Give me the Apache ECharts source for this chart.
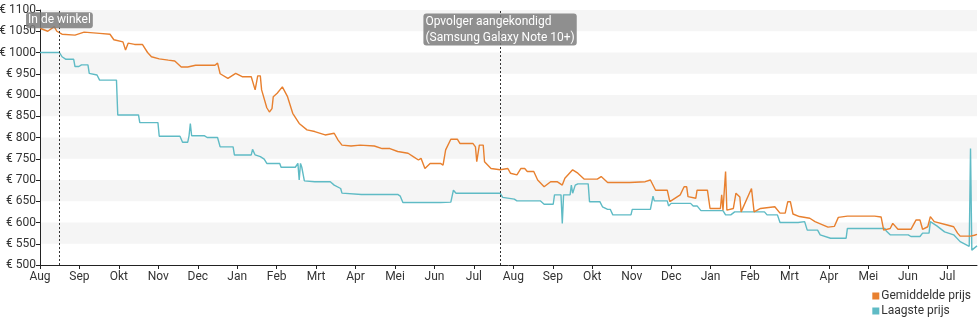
<!DOCTYPE html>
<html>
<head>
<meta charset="utf-8">
<script src="https://cdn.jsdelivr.net/npm/echarts@6/dist/echarts.min.js"></script>
<style>html,body{margin:0;padding:0;background:#fff}#c{width:980px;height:325px}</style>
</head>
<body>
<div id="c"></div>
<script>
const tickLabels = ['Aug','Sep','Okt','Nov','Dec','Jan','Feb','Mrt','Apr','Mei','Jun','Jul','Aug','Sep','Okt','Nov','Dec','Jan','Feb','Mrt','Apr','Mei','Jun','Jul'];
const yTicks = [500,550,600,650,700,750,800,850,900,950,1000,1050,1100];
const seriesNames = ['Gemiddelde prijs','Laagste prijs'];
const xRange = ['2018-08-01','2020-07-24'];
const events = [
  {date:'2018-08-16', lines:['In de winkel'], labelAt:1076},
  {date:'2019-07-22', lines:['Opvolger aangekondigd','(Samsung Galaxy Note 10+)'], labelAt:1054}
];
const avgPrice = [
['2018-08-01',1057],['2018-08-07',1050],['2018-08-12',1061],['2018-08-14',1050],['2018-08-18',1043],['2018-08-28',1041],
['2018-09-04',1048],['2018-09-16',1045],['2018-09-24',1043],['2018-09-27',1030],['2018-10-04',1025],['2018-10-06',1006],
['2018-10-08',1022],['2018-10-13',1019],['2018-10-19',1019],['2018-10-23',1000],['2018-10-26',990],['2018-11-01',985],
['2018-11-08',982],['2018-11-13',980],['2018-11-18',966],['2018-11-23',966],['2018-11-29',970],['2018-12-06',970],
['2018-12-14',970],['2018-12-16',975],['2018-12-18',950],['2018-12-24',939],['2018-12-30',951],['2019-01-04',943],
['2019-01-11',943],['2019-01-14',912],['2019-01-16',945],['2019-01-18',945],['2019-01-19',912],['2019-01-23',870],
['2019-01-25',860],['2019-01-27',868],['2019-01-28',896],['2019-01-31',904],['2019-02-04',919],['2019-02-08',896],
['2019-02-12',857],['2019-02-17',833],['2019-02-23',818],['2019-03-01',814],['2019-03-09',806],['2019-03-16',810],
['2019-03-19',794],['2019-03-22',782],['2019-03-29',780],['2019-04-05',782],['2019-04-16',780],['2019-04-22',774],
['2019-04-28',774],['2019-05-04',767],['2019-05-12',763],['2019-05-16',755],['2019-05-20',747],['2019-05-22',751],
['2019-05-25',727],['2019-05-29',739],['2019-06-06',739],['2019-06-08',735],['2019-06-10',771],['2019-06-14',796],
['2019-06-19',796],['2019-06-21',786],['2019-06-27',786],['2019-07-01',786],['2019-07-03',778],['2019-07-04',743],
['2019-07-06',782],['2019-07-09',782],['2019-07-10',743],['2019-07-15',727],['2019-07-22',724],['2019-07-28',727],
['2019-07-30',716],['2019-08-04',712],['2019-08-07',727],['2019-08-10',727],['2019-08-12',720],['2019-08-17',720],
['2019-08-20',700],['2019-08-25',684],['2019-08-30',696],['2019-09-04',696],['2019-09-08',688],['2019-09-10',704],
['2019-09-16',724],['2019-09-20',716],['2019-09-25',702],['2019-10-05',702],['2019-10-08',708],['2019-10-13',694],
['2019-10-30',694],['2019-11-11',696],['2019-11-15',700],['2019-11-19',676],['2019-11-28',676],['2019-11-30',649],
['2019-12-08',665],['2019-12-11',684],['2019-12-13',684],['2019-12-14',661],['2019-12-20',657],['2019-12-21',676],
['2019-12-29',676],['2019-12-31',633],['2020-01-08',633],['2020-01-09',665],['2020-01-10',629],['2020-01-12',720],
['2020-01-13',629],['2020-01-18',633],['2020-01-20',669],['2020-01-23',660],['2020-01-24',625],['2020-02-01',680],
['2020-02-03',625],['2020-02-08',633],['2020-02-19',637],['2020-02-23',622],['2020-02-27',622],['2020-02-29',649],
['2020-03-02',649],['2020-03-04',620],['2020-03-09',614],['2020-03-17',610],['2020-03-21',602],['2020-03-31',589],
['2020-04-05',591],['2020-04-08',612],['2020-04-15',615],['2020-05-06',615],['2020-05-11',613],['2020-05-13',582],
['2020-05-18',586],['2020-05-20',598],['2020-05-24',584],['2020-06-03',584],['2020-06-07',606],['2020-06-10',606],
['2020-06-12',584],['2020-06-16',590],['2020-06-18',614],['2020-06-21',602],['2020-07-01',594],['2020-07-06',590],
['2020-07-09',575],['2020-07-11',568],['2020-07-19',568],['2020-07-22',570],['2020-07-24',572]
];
const lowPrice = [
['2018-08-01',1000],['2018-08-16',1000],['2018-08-18',990],['2018-08-21',984],['2018-08-27',984],['2018-08-28',967],
['2018-08-31',967],['2018-09-02',971],['2018-09-07',971],['2018-09-08',951],['2018-09-14',947],['2018-09-16',935],
['2018-09-29',935],['2018-09-30',853],['2018-10-16',853],['2018-10-17',835],['2018-10-31',835],['2018-11-01',803],
['2018-11-17',803],['2018-11-19',789],['2018-11-23',789],['2018-11-24',804],['2018-11-25',833],['2018-11-26',804],
['2018-12-06',804],['2018-12-08',800],['2018-12-16',800],['2018-12-18',778],['2018-12-28',778],['2018-12-29',759],
['2019-01-11',759],['2019-01-12',772],['2019-01-14',759],['2019-01-18',755],['2019-01-21',749],['2019-01-23',739],
['2019-02-02',739],['2019-02-03',730],['2019-02-14',730],['2019-02-16',739],['2019-02-17',700],['2019-02-18',739],
['2019-02-19',730],['2019-02-21',698],['2019-03-01',696],['2019-03-13',696],['2019-03-16',688],['2019-03-21',680],
['2019-03-22',669],['2019-04-06',666],['2019-05-04',666],['2019-05-06',662],['2019-05-08',647],['2019-06-06',647],
['2019-06-14',648],['2019-06-16',676],['2019-06-18',669],['2019-07-22',669],['2019-07-24',659],['2019-08-02',655],
['2019-08-04',651],['2019-08-22',651],['2019-08-25',643],['2019-09-01',643],['2019-09-02',665],['2019-09-07',665],
['2019-09-08',598],['2019-09-09',665],['2019-09-14',665],['2019-09-15',688],['2019-09-16',669],['2019-09-18',688],
['2019-09-20',691],['2019-09-28',691],['2019-09-29',649],['2019-10-07',649],['2019-10-09',637],['2019-10-13',631],
['2019-10-15',631],['2019-10-17',618],['2019-10-31',618],['2019-11-01',631],['2019-11-15',631],['2019-11-17',662],
['2019-11-18',651],['2019-11-28',651],['2019-11-29',639],['2019-12-01',645],['2019-12-16',645],['2019-12-18',639],
['2019-12-21',639],['2019-12-24',628],['2020-01-10',628],['2020-01-12',618],['2020-01-16',618],['2020-01-19',625],
['2020-02-11',625],['2020-02-13',618],['2020-02-21',618],['2020-02-23',600],['2020-03-08',600],['2020-03-13',602],
['2020-03-15',582],['2020-03-23',582],['2020-03-25',571],['2020-04-02',563],['2020-04-14',563],['2020-04-15',586],
['2020-05-14',586],['2020-05-15',580],['2020-05-18',571],['2020-06-01',571],['2020-06-03',567],['2020-06-10',567],
['2020-06-12',575],['2020-06-17',575],['2020-06-18',602],['2020-06-23',592],['2020-06-29',578],['2020-07-06',571],
['2020-07-11',555],['2020-07-18',544],['2020-07-19',774],['2020-07-20',535],['2020-07-24',545]
];

const FONT = 'Roboto, "Noto Sans", sans-serif';
const DAY = 86400000;
const MONTH = 30.4375 * DAY;
const ts = d => Date.UTC(+d.slice(0,4), +d.slice(5,7) - 1, +d.slice(8,10));
const toSeries = arr => arr.map(p => [ts(p[0]), p[1]]);
const xMin = ts(xRange[0]), xMax = ts(xRange[1]);
const tickTimes = tickLabels.map((_, i) => xMin + i * MONTH);
const chart = echarts.init(document.getElementById('c'), null, {renderer:'canvas'});
chart.setOption({
  animation:false,
  textStyle:{fontFamily:FONT},
  grid:{left:40, right:3, top:10, bottom:60, containLabel:false, outerBoundsMode:'none'},
  legend:{
    orient:'vertical', right:4, bottom:3, itemWidth:7, itemHeight:7, itemGap:3, icon:'rect', align:'left',
    textStyle:{fontSize:12, color:'#333', fontFamily:FONT, padding:[0,0,0,-3]},
    data:seriesNames
  },
  xAxis:{
    type:'value', min:xMin, max:xMax,
    axisLine:{lineStyle:{color:'#222', width:1}},
    axisTick:{show:true, length:4, lineStyle:{color:'#222'}, customValues:tickTimes},
    axisLabel:{color:'#333', fontSize:12, fontFamily:FONT, margin:6, customValues:tickTimes, hideOverlap:false,
      formatter:v => tickLabels[Math.round((v - xMin) / MONTH)]},
    splitLine:{show:false}
  },
  yAxis:{
    type:'value', min:yTicks[0], max:yTicks[yTicks.length-1], interval:50,
    axisLine:{show:true, lineStyle:{color:'#222', width:1}},
    axisTick:{show:true, length:4, lineStyle:{color:'#222'}},
    axisLabel:{color:'#333', fontSize:12, fontFamily:FONT, margin:4, formatter:v => '€ ' + v},
    splitLine:{show:false},
    splitArea:{show:true, areaStyle:{color:['rgba(255,255,255,0)','#f5f5f5']}}
  },
  series:[
    {
      name:seriesNames[0], type:'line', data:toSeries(avgPrice), showSymbol:false, symbol:'none',
      lineStyle:{color:'#e8802f', width:1.4}, itemStyle:{color:'#e8802f'}, z:3,
      markLine:{
        silent:true, symbol:['none','none'], label:{show:false},
        lineStyle:{color:'#333', type:[2,2], width:1},
        data: events.map(e => ({xAxis:ts(e.date)}))
      },
      markPoint:{
        silent:true, symbol:'rect', symbolSize:1, itemStyle:{color:'rgba(0,0,0,0)'},
        label:{show:true, position:'inside', align:'center', verticalAlign:'middle',
          backgroundColor:'rgba(125,125,125,0.85)', borderRadius:3, padding:[0,2,0,2],
          formatter:p => p.data.lines.map(l => '{t|' + l + '}').join('\n'),
          rich:{t:{color:'#fff', fontSize:12, fontFamily:FONT, lineHeight:16, align:'left'}}},
        data: events.map(e => ({name:e.lines.join(' '), lines:e.lines, coord:[ts(e.date), e.labelAt]}))
      }
    },
    {
      name:seriesNames[1], type:'line', data:toSeries(lowPrice), showSymbol:false, symbol:'none',
      lineStyle:{color:'#5fbbc5', width:1.4}, itemStyle:{color:'#5fbbc5'}, z:2
    }
  ]
});
</script>
</body>
</html>
